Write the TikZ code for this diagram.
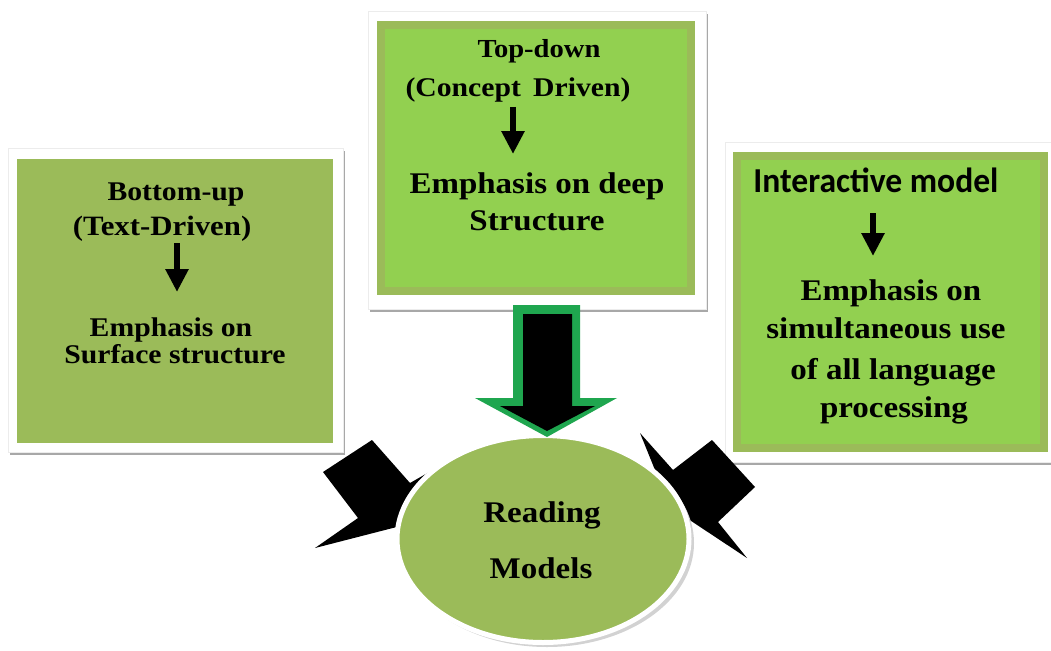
\documentclass[tikz,border=0pt]{standalone}
\usepackage{fontspec}
\setmainfont{Liberation Serif}[FakeStretch=1.1]
\newfontfamily\calib{Carlito}[FakeStretch=0.96]
\usetikzlibrary{arrows.meta,shapes.geometric}
\definecolor{olivegreen}{HTML}{9BBB59}
\definecolor{limegreen}{HTML}{92D050}
\definecolor{arrowgreen}{HTML}{1FA64F}
\definecolor{shadowgray}{HTML}{A8A8A8}
\tikzset{
  framebox/.style={fill=white, draw=gray!15, line width=0.8pt},
  boxshadow/.style={fill=shadowgray},
  plainbox/.style={fill=olivegreen, inner sep=0pt, outer sep=0pt},
  limebox/.style={fill=limegreen, draw=olivegreen, line width=8pt, inner sep=0pt, outer sep=0pt},
  txt/.style={anchor=base, inner sep=0pt, font=\bfseries},
  smallarrow/.style={line width=6pt, -{Triangle[length=23pt,width=22pt]}},
  blackarrow/.style={fill=black},
}
\begin{document}
\begin{tikzpicture}[x=1pt,y=-1pt]
\useasboundingbox (0,0) rectangle (1051,650);
\fill[white] (0,0) rectangle (1051,650);

% ---------- left box ----------
\fill[boxshadow] (10,151) rectangle (345,455);
\path[framebox] (8,148) rectangle (343,452);
\node[plainbox, minimum width=316pt, minimum height=284pt] (lbox) at (175,301) {};
\node[txt, font=\bfseries\fontsize{27}{27}\selectfont] (l1) at (176,200) {Bottom-up};
\node[txt, font=\bfseries\fontsize{28}{28}\selectfont] (l2) at (162,235) {(Text-Driven)};
\node[txt, font=\bfseries\fontsize{27}{27}\selectfont] (l3) at (171,336) {Emphasis on};
\node[txt, font=\bfseries\fontsize{27}{27}\selectfont] (l4) at (175,363) {Surface structure};
\coordinate (la1) at (177,243);
\coordinate (la2) at (177,292);
\draw[smallarrow] (la1) -- (la2);

% ---------- right box ----------
\fill[boxshadow] (727,145) rectangle (1060,465);
\path[framebox] (725,142) rectangle (1058,462);
\node[limebox, minimum width=307pt, minimum height=292pt] (rbox) at (890.5,302) {};
\node[txt, font=\calib\bfseries\fontsize{35}{35}\selectfont] (r1) at (876,192) {Interactive model};
\node[txt, font=\bfseries\fontsize{30}{30}\selectfont] (r2) at (891,300) {Emphasis on};
\node[txt, font=\bfseries\fontsize{30}{30}\selectfont] (r3) at (886,338) {simultaneous use};
\node[txt, font=\bfseries\fontsize{30}{30}\selectfont] (r4) at (893,379) {of all language};
\node[txt, font=\bfseries\fontsize{30}{30}\selectfont] (r5) at (894,417) {processing};
\coordinate (ra1) at (873,213);
\coordinate (ra2) at (873,256);
\draw[smallarrow] (ra1) -- (ra2);

% ---------- middle box ----------
\fill[boxshadow] (370,14) rectangle (708,312);
\path[framebox] (368,11) rectangle (706,309);
\node[limebox, minimum width=310pt, minimum height=266pt] (mbox) at (536,158) {};
\node[txt, font=\bfseries\fontsize{26}{26}\selectfont] (m1) at (539,58) {Top-down};
\node[txt, font=\bfseries\fontsize{27}{27}\selectfont] (m2) at (518,97) {(Concept\hspace{0.45em}Driven)};
\node[txt, font=\bfseries\fontsize{30}{30}\selectfont] (m3) at (537,193) {Emphasis on deep};
\node[txt, font=\bfseries\fontsize{30}{30}\selectfont] (m4) at (537,230) {Structure};
\coordinate (ma1) at (513,107);
\coordinate (ma2) at (513,154);
\draw[smallarrow] (ma1) -- (ma2);

% ---------- black side arrows (behind the ellipse) ----------
\fill[blackarrow] (323,472) -- (372,440) -- (410,483) -- (445,463) -- (420,521)
  -- (315,548) -- (358,518) -- cycle;
\fill[blackarrow] (640,433) -- (673,470) -- (712,440) -- (755,487) -- (718,522)
  -- (747,558) -- (670,507) -- cycle;

% ---------- ellipse ----------
\fill[gray!35] (547,543) ellipse [x radius=147pt, y radius=104pt];
\node[ellipse, fill=olivegreen, draw=white, line width=5pt, minimum width=292pt,
      minimum height=207pt, inner sep=0pt] (ell) at (543,539) {};
\node[txt, font=\bfseries\fontsize{30}{30}\selectfont] (e1) at (542,522) {Reading};
\node[txt, font=\bfseries\fontsize{30}{30}\selectfont] (e2) at (541,578) {Models};

% ---------- big down arrow ----------
\fill[arrowgreen] (513,305) -- (580,305) -- (580,398) -- (617,398) -- (547,437)
  -- (475,398) -- (513,398) -- cycle;
\fill[black] (523,314) -- (572,314) -- (572,406) -- (595,406) -- (547,431)
  -- (500,406) -- (523,406) -- cycle;
\end{tikzpicture}
\end{document}
